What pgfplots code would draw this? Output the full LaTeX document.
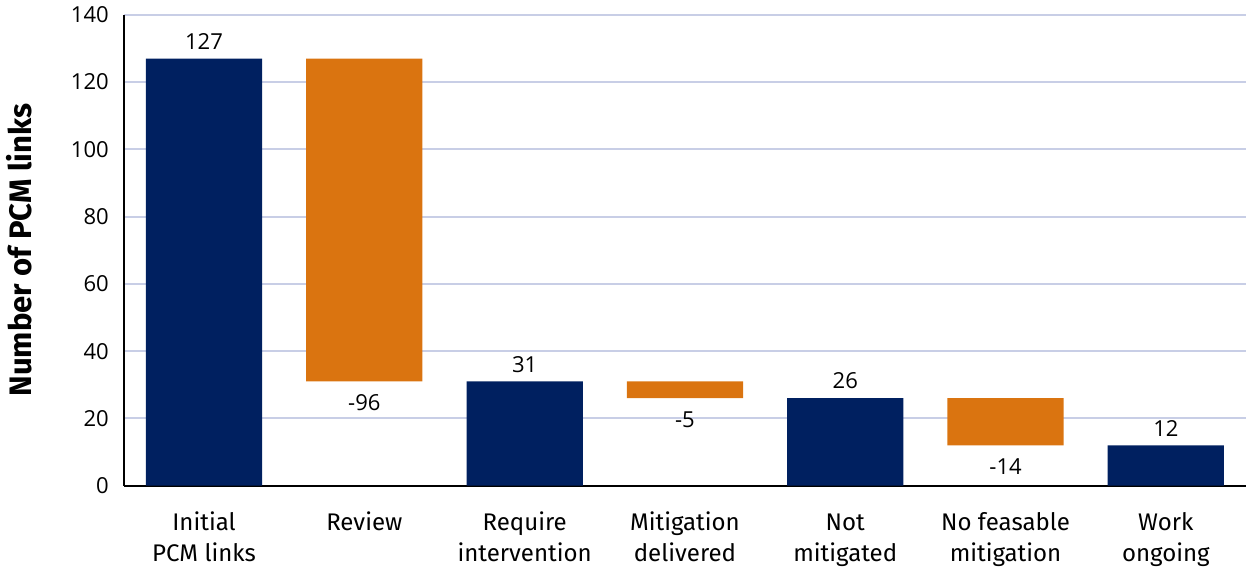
\documentclass[border=0pt]{standalone}
\usepackage{pgfplots}
\pgfplotsset{compat=1.18}
\usepackage{pgfplotstable}
\usepackage{fontspec}
\setmainfont{Fira Sans}
\newfontfamily\numfont{Open Sans}
\definecolor{navy}{RGB}{0,32,96}
\definecolor{amber}{RGB}{218,116,16}
\definecolor{gridc}{RGB}{200,206,230}

\pgfplotstableread{
x base blue orange
0 0  127 0
1 31 0   96
2 0  31  0
3 26 0   5
4 0  26  0
5 12 0   14
6 0  12  0
}\bars

\pgfplotstableread{
x y lab
0 127 127
2 31 31
4 26 26
6 12 12
}\uplabels

\pgfplotstableread{
x y lab
1 31 -96
3 26 -5
5 12 -14
}\downlabels

\begin{document}
\begin{tikzpicture}
\pgfplotsset{common/.style={
    width=560pt, height=235pt, scale only axis,
    xmin=-0.5, xmax=6.5, ymin=0, ymax=140,
}}
\begin{axis}[common,
    ybar stacked, bar width=58pt,
    axis x line=bottom, axis y line=left,
    axis line style={-, line width=1pt, black},
    ytick={0,20,...,140},
    ymajorgrids, grid style={gridc, line width=1pt},
    major tick length=0,
    xtick={0,...,6},
    xticklabels={{\strut Initial\\PCM links},{\strut Review},{\strut Require\\intervention},{\strut Mitigation\\delivered},{\strut Not\\mitigated},{\strut No feasable\\mitigation},{\strut Work\\ongoing}},
    xticklabel style={align=center, anchor=north, font=\fontsize{12}{15.5}\selectfont, yshift=-8pt},
    yticklabel style={font=\numfont\fontsize{11}{13}\selectfont, xshift=-4pt},
    /pgf/number format/assume math mode=true,
    ylabel={Number of PCM links},
    ylabel style={font=\bfseries\fontsize{15.5}{17}\selectfont, at={(axis description cs:-0.093,0.5)}, anchor=center},
  ]
  \addplot[draw=none, fill=none] table[x=x, y=base] {\bars};
  \addplot[draw=none, fill=navy] table[x=x, y=blue] {\bars};
  \addplot[draw=none, fill=amber] table[x=x, y=orange] {\bars};
\end{axis}
\begin{axis}[common, hide axis]
  \addplot[only marks, mark=none, point meta=explicit symbolic,
    nodes near coords, nodes near coords style={anchor=south, font=\numfont\fontsize{11}{13}\selectfont, yshift=1pt}]
    table[x=x, y=y, meta=lab] {\uplabels};
  \addplot[only marks, mark=none, point meta=explicit symbolic,
    nodes near coords, nodes near coords style={anchor=north, font=\numfont\fontsize{11}{13}\selectfont, yshift=-3pt}]
    table[x=x, y=y, meta=lab] {\downlabels};
\end{axis}
\end{tikzpicture}
\end{document}
